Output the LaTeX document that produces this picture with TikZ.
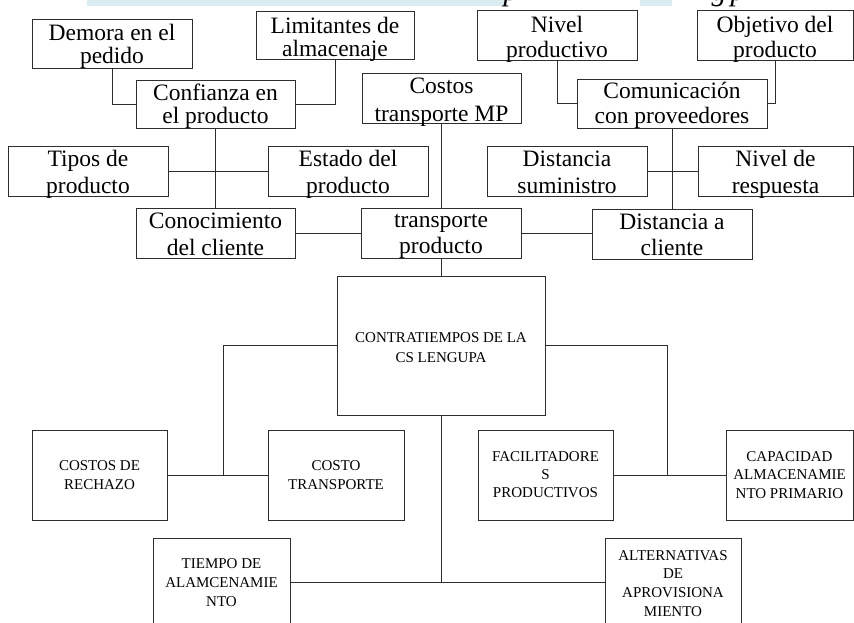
\documentclass[tikz,border=0pt]{standalone}
\usepackage{fontspec}
\setmainfont{Liberation Serif}
\definecolor{bandblue}{RGB}{219,236,241}
\definecolor{lin}{RGB}{45,45,45}
\tikzset{
  box/.style={draw=lin, line width=0.9pt, inner sep=0pt, rectangle},
  link/.style={draw=lin, line width=0.9pt},
  big/.style={font=\fontsize{23.5}{26}\selectfont, inner sep=0pt, anchor=base},
  small/.style={font=\fontsize{15}{19}\selectfont, inner sep=0pt, anchor=base},
  ttl/.style={font=\itshape\fontsize{30}{30}\selectfont, inner sep=0pt, anchor=base},
}
\newcommand\bx[5]{\node[box, minimum width={(#4)-(#2)}, minimum height={(#5)-(#3)}] (#1) at ({((#2)+(#4))/2},{((#3)+(#5))/2}) {};}
\begin{document}
\begin{tikzpicture}[x=1pt,y=-1pt]
\useasboundingbox (0,0) rectangle (854,622);
\clip (0,0) rectangle (854,622);
% cut-off title band
\fill[bandblue] (87,0) rectangle (506,5.5);
\fill[bandblue] (640,0) rectangle (672,5.5);
\node[ttl] (g1) at (511,0.5) {p};
\node[ttl] (g2) at (719,0.5) {g};
\node[ttl] (g3) at (738,0.5) {p};
% boxes
\bx{dem}{32}{19}{192}{68}
\bx{lim}{256}{11}{414}{59}
\bx{niv}{477}{10}{637}{60}
\bx{obj}{697}{10}{853}{60}
\bx{con}{136}{80}{295}{128}
\bx{cmp}{362}{73}{521}{123}
\bx{com}{577}{79}{767}{128}
\bx{tip}{8}{146}{168}{196}
\bx{est}{268}{146}{428}{196}
\bx{dsu}{487}{146}{647}{196}
\bx{nre}{698}{146}{853}{196}
\bx{cono}{136}{208}{295}{258}
\bx{tpr}{361}{208}{521}{258}
\bx{dcl}{592}{209}{752}{259}
\bx{ctr}{337}{276}{545}{415}
\bx{rec}{32}{430}{167}{520}
\bx{cto}{268}{430}{404}{520}
\bx{fac}{478}{430}{613}{520}
\bx{cap}{726}{430}{853}{520}
\bx{tie}{153}{538}{290}{626}
\bx{alt}{605}{538}{741}{626}
% texts (top)
\node[big] (t1a) at (112,40) {Demora en el};
\node[big] (t1b) at (112,63) {pedido};
\node[big] (t2a) at (335,33) {Limitantes de};
\node[big] (t2b) at (335,56) {almacenaje};
\node[big] (t3a) at (557,32) {Nivel};
\node[big] (t3b) at (557,57) {productivo};
\node[big] (t4a) at (775,32) {Objetivo del};
\node[big] (t4b) at (775,57) {producto};
\node[big] (t5a) at (215.5,100) {Confianza en};
\node[big] (t5b) at (215.5,123) {el producto};
\node[big] (t6a) at (441.5,93) {Costos};
\node[big] (t6b) at (441.5,121) {transporte MP};
\node[big] (t7a) at (672,98) {Comunicación};
\node[big] (t7b) at (672,123) {con proveedores};
\node[big] (t8a) at (88,166) {Tipos de};
\node[big] (t8b) at (88,193) {producto};
\node[big] (t9a) at (348,166) {Estado del};
\node[big] (t9b) at (348,193) {producto};
\node[big] (t10a) at (567,166) {Distancia};
\node[big] (t10b) at (567,193) {suministro};
\node[big] (t11a) at (775.5,166) {Nivel de};
\node[big] (t11b) at (775.5,193) {respuesta};
\node[big] (t12a) at (215.5,228) {Conocimiento};
\node[big] (t12b) at (215.5,255) {del cliente};
\node[big] (t13a) at (441,227) {transporte};
\node[big] (t13b) at (441,253) {producto};
\node[big] (t14a) at (672,229) {Distancia a};
\node[big] (t14b) at (672,255) {cliente};
% texts (bottom)
\node[small] (s1a) at (441,342) {CONTRATIEMPOS DE LA};
\node[small] (s1b) at (441,362) {CS LENGUPA};
\node[small] (s2a) at (99.5,470) {COSTOS DE};
\node[small] (s2b) at (99.5,489) {RECHAZO};
\node[small] (s3a) at (336,470) {COSTO};
\node[small] (s3b) at (336,489) {TRANSPORTE};
\node[small] (s4a) at (545.5,461) {FACILITADORE};
\node[small] (s4b) at (545.5,479) {S};
\node[small] (s4c) at (545.5,497) {PRODUCTIVOS};
\node[small] (s5a) at (789.5,461) {CAPACIDAD};
\node[small] (s5b) at (789.5,479) {ALMACENAMIE};
\node[small] (s5c) at (789.5,498) {NTO PRIMARIO};
\node[small] (s6a) at (221.5,568) {TIEMPO DE};
\node[small] (s6b) at (221.5,587) {ALAMCENAMIE};
\node[small] (s6c) at (221.5,606) {NTO};
\node[small] (s7a) at (673,560) {ALTERNATIVAS};
\node[small] (s7b) at (673,578) {DE};
\node[small] (s7c) at (673,597) {APROVISIONA};
\node[small] (s7d) at (673,616) {MIENTO};
% connectors
\draw[link] (dem.south) |- (con.west);
\draw[link] (lim.south) |- (con.east);
\draw[link] (niv.south) |- (com.west);
\draw[link] (obj.south) |- (com.east);
\draw[link] (con.south) -- (cono.north);
\draw[link] (tip.east) -- (est.west);
\draw[link] (cmp.south) -- (cmp.south |- tpr.north);
\draw[link] (com.south) -- (dcl.north);
\draw[link] (dsu.east) -- (nre.west);
\draw[link] (cono.east) -- (tpr.west);
\draw[link] (tpr.east) -- (tpr.east -| dcl.west);
\draw[link] (tpr.south) -- (ctr.north);
\coordinate (jl) at (223,475);
\draw[link] (ctr.west) -| (jl);
\draw[link] (rec.east) -- (cto.west);
\coordinate (jr) at (667,475);
\draw[link] (ctr.east) -| (jr);
\draw[link] (fac.east) -- (cap.west);
\coordinate (jb) at (441,582);
\draw[link] (ctr.south) -- (jb);
\draw[link] (tie.east) -- (alt.west);
\end{tikzpicture}
\end{document}
